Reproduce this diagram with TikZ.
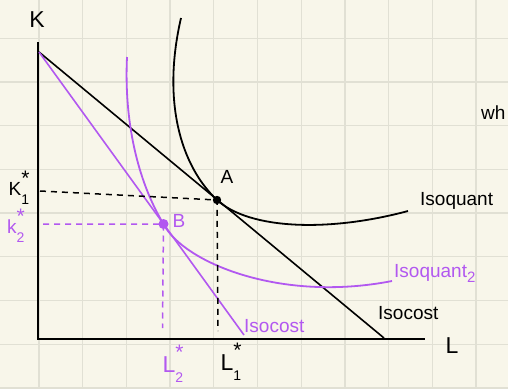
\documentclass[tikz,border=0pt]{standalone}
\usepackage{fontspec}
\setmainfont{Liberation Sans}
\usepackage{tikz}
\usetikzlibrary{calc}

\definecolor{paper}{RGB}{248,246,234}
\definecolor{gridgray}{RGB}{225,224,212}
\definecolor{lilac}{RGB}{178,88,240}

% star above, index below, beside a letter
\newcommand{\starpair}[1]{%
  {\renewcommand{\arraystretch}{1}\setlength{\tabcolsep}{0pt}%
   \begin{tabular}[c]{@{}l@{}}%
   \fontsize{21}{21}\selectfont*\\[-3pt]
   \fontsize{14}{14}\selectfont #1
   \end{tabular}}}

\begin{document}
\begin{tikzpicture}[
    x=1pt, y=-1pt,
    gridline/.style={gridgray, line width=1.3pt},
    axis/.style={black, line width=2.4pt},
    curve/.style={line width=1.8pt},
    guide/.style={line width=1.5pt, dash pattern=on 6pt off 5pt},
    lbl/.style={font=\fontsize{19}{22}\selectfont, inner sep=0pt},
    axlbl/.style={font=\fontsize{23}{26}\selectfont, inner sep=0pt}
]
\clip (0,0) rectangle (508,388);
\fill[paper] (0,0) rectangle (508,388);
\useasboundingbox (0,0) rectangle (508,388);

% paper grid
\foreach \i in {0,...,10}
    \draw[gridline] ({39+43.7*\i},0) -- ({39+43.7*\i},388);
\foreach \j in {0,...,8}
    \draw[gridline] (0,{38.3+43.7*\j}) -- (508,{38.3+43.7*\j});

% axes
\coordinate (ktop) at (38,42);
\coordinate (origin) at (38,339);
\coordinate (lend) at (425,339);
\draw[axis] (ktop) -- (origin) -- (lend);
\node[axlbl] (klab) at (37,20) {K};
\node[axlbl] (llab) at (452,346) {L};

% tangency points
\coordinate (A) at (217,200);
\coordinate (B) at (163.5,224);

% isocost lines
\coordinate (c0) at (39,52);
\coordinate (c1) at (384,338);
\coordinate (c2) at (244,335);
\draw[curve, line width=1.6pt] (c0) -- (c1);
\draw[curve, lilac, line width=1.6pt] (c0) -- (c2);

% isoquants
\draw[curve] (181,18) .. controls (162,100) and (180,165) .. (A)
    .. controls (250,230) and (330,232) .. (408,211);
\draw[curve, lilac] (127,57) .. controls (124,120) and (137,180) .. (B)
    .. controls (183,262) and (280,303) .. (392,281);

% dashed guides
\coordinate (k1) at (40,191);
\coordinate (l1) at (218,331);
\coordinate (k2) at (43,224);
\coordinate (l2) at (162.5,328);
\draw[guide] (k1) -- (A) -- (l1);
\draw[guide, lilac] (k2) -- (B) -- (l2);

\fill (A) circle (4.2pt);
\fill[lilac] (B) circle (5pt);

% labels
\node[lbl] (alab) at (227,177) {A};
\node[lbl, lilac] (blab) at (179,221) {B};
\node[lbl] (k1lab) at (19,191) {K\starpair{1}};
\node[lbl, lilac] (k2lab) at (16,229) {k\starpair{2}};
\node[lbl, lilac, font=\fontsize{23}{26}\selectfont] (l2lab) at (173,366) {L\starpair{2}};
\node[lbl, font=\fontsize{23}{26}\selectfont] (l1lab) at (231,364) {L\starpair{1}};
\node[lbl, anchor=west] (iq1) at (420,201) {Isoquant};
\node[lbl, lilac, anchor=west] (iq2) at (394,273) {Isoquant\raisebox{-5pt}{\fontsize{15}{15}\selectfont 2}};
\node[lbl, anchor=west] (ic1) at (378,313) {Isocost};
\node[lbl, lilac, anchor=west] (ic2) at (244,326) {Isocost};
\node[lbl, anchor=west] (wh) at (481,113) {wh};
\end{tikzpicture}
\end{document}
